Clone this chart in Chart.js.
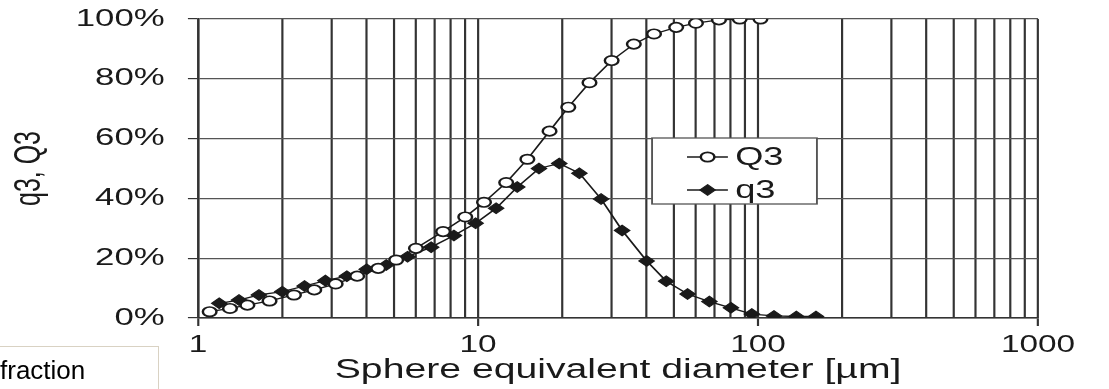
<!DOCTYPE html>
<html>
<head>
<meta charset="utf-8">
<script src="https://cdn.jsdelivr.net/npm/chart.js@4.4.1/dist/chart.umd.min.js"></script>
<style>
  html, body { margin: 0; padding: 0; background: #fff; }
  #wrap { position: relative; width: 1109px; height: 389px; overflow: hidden; }
  #fraction {
    position: absolute; left: -3px; top: 346px; width: 162px; height: 50px;
    border: 1px solid #d9d2c3; box-sizing: border-box;
    font: 26px "Liberation Sans", Arial, sans-serif; color: #000;
    padding: 8px 0 0 2px; line-height: 30px;
  }
</style>
</head>
<body>
<div id="wrap">
  <canvas id="myChart"></canvas>
  <div id="fraction">fraction</div>
</div>
<script>
// particle size [µm] and values [%]
const q3Sizes = [1.19, 1.4, 1.65, 2.0, 2.4, 2.85, 3.4, 4.0, 4.7, 5.6, 6.8, 8.2, 9.8, 11.6, 13.8, 16.5, 19.5, 23, 27.5, 32.7, 40, 47, 56, 67, 80, 95, 114, 137, 161];
const q3Values = [4.9, 6.0, 7.7, 8.8, 10.7, 12.5, 14.0, 16.3, 17.7, 20.5, 23.7, 27.6, 31.7, 36.7, 43.8, 50.0, 51.7, 48.4, 39.8, 29.3, 19.1, 12.3, 8.0, 5.5, 3.4, 1.3, 0.7, 0.5, 0.5];

const Q3Sizes = [1.1, 1.3, 1.5, 1.8, 2.2, 2.6, 3.1, 3.7, 4.4, 5.1, 6, 7.5, 9, 10.5, 12.6, 15, 18, 21, 25, 30, 36, 42.5, 51, 60, 72.5, 86, 102];
const Q3Values = [2.1, 3.2, 4.3, 5.7, 7.7, 9.4, 11.4, 14.0, 16.6, 19.4, 23.3, 28.9, 33.8, 38.7, 45.3, 53.1, 62.5, 70.5, 78.7, 86.1, 91.6, 95.0, 97.2, 98.6, 99.7, 100, 100];

const xLabels = [1, 10, 100, 1000];
const xGrid = [1, 2, 3, 4, 5, 6, 7, 8, 9, 10, 20, 30, 40, 50, 60, 70, 80, 90, 100, 200, 300, 400, 500, 600, 700, 800, 900, 1000];
const yTicks = [0, 20, 40, 60, 80, 100];

// the original figure is stretched sideways, so the whole drawing is scaled in x
const SX = 1.45;
const FONT = '"Liberation Sans", Arial, sans-serif';

const ctx = document.getElementById("myChart");

const toPoints = (xs, ys) => xs.map((x, i) => ({ x: x, y: ys[i] }));

const drawLegend = (chart) => {
  const c = chart.ctx;
  const box = { x: 449.7, y: 138, w: 113.7, h: 66 };
  c.save();
  c.fillStyle = "#fff";
  c.fillRect(box.x, box.y, box.w, box.h);
  c.strokeStyle = "#555";
  c.lineWidth = 1.3;
  c.strokeRect(box.x, box.y, box.w, box.h);
  chart.data.datasets.forEach((ds, i) => {
    const y = box.y + 19 + i * 33;
    c.strokeStyle = ds.borderColor;
    c.lineWidth = ds.borderWidth;
    c.beginPath();
    c.moveTo(473.8, y);
    c.lineTo(502, y);
    c.stroke();
    c.fillStyle = ds.pointBackgroundColor;
    c.strokeStyle = ds.pointBorderColor;
    c.lineWidth = ds.pointBorderWidth;
    c.beginPath();
    if (ds.pointStyle === "circle") {
      c.arc(488, y, ds.pointRadius, 0, Math.PI * 2);
    } else {
      c.moveTo(488, y - ds.pointRadius);
      c.lineTo(488 + ds.pointRadius, y);
      c.lineTo(488, y + ds.pointRadius);
      c.lineTo(488 - ds.pointRadius, y);
      c.closePath();
    }
    c.fill();
    c.stroke();
    c.fillStyle = "#1a1a1a";
    c.font = "25px " + FONT;
    c.textBaseline = "middle";
    c.fillText(ds.label, 507, y + 1);
  });
  c.restore();
};

const stretch = {
  id: "stretch",
  beforeDraw(chart) {
    chart.ctx.save();
    chart.ctx.scale(SX, 1);
  },
  afterDraw(chart) {
    drawLegend(chart);
    chart.ctx.restore();
  }
};

new Chart(ctx, {
  type: "line",
  data: {
    datasets: [
      {
        label: "Q3",
        data: toPoints(Q3Sizes, Q3Values),
        borderColor: "#1a1a1a",
        borderWidth: 1.3,
        pointStyle: "circle",
        pointRadius: 4.7,
        pointBorderWidth: 1.7,
        pointBackgroundColor: "#fff",
        pointBorderColor: "#1a1a1a",
        tension: 0
      },
      {
        label: "q3",
        data: toPoints(q3Sizes, q3Values),
        borderColor: "#1a1a1a",
        borderWidth: 1.3,
        pointStyle: "rectRot",
        pointRadius: 5.3,
        pointBorderWidth: 1,
        pointBackgroundColor: "#1a1a1a",
        pointBorderColor: "#1a1a1a",
        tension: 0
      }
    ]
  },
  options: {
    responsive: true,
    maintainAspectRatio: false,
    devicePixelRatio: 1,
    animation: false,
    layout: { padding: { left: 0, top: 19, right: 1109 - 715.9, bottom: 0 } },
    plugins: {
      legend: { display: false },
      tooltip: { enabled: false }
    },
    scales: {
      x: {
        type: "logarithmic",
        min: 1,
        max: 1000,
        afterBuildTicks: (scale) => {
          scale.ticks = xGrid.map((v) => ({ value: v }));
        },
        afterFit: (scale) => { scale.height = 71; },
        ticks: {
          autoSkip: false,
          maxRotation: 0,
          minRotation: 0,
          padding: 6,
          color: "#1a1a1a",
          font: { family: FONT, size: 23 },
          callback: (v) => (xLabels.includes(v) ? String(v) : "")
        },
        grid: {
          color: "#333",
          lineWidth: 1.5,
          tickLength: 8,
          tickColor: (c) => (c.tick && xLabels.includes(c.tick.value) ? "#333" : "rgba(0,0,0,0)")
        },
        border: { color: "#333", width: 1.5 },
        title: {
          display: true,
          text: "Sphere equivalent diameter [µm]",
          color: "#1a1a1a",
          font: { family: FONT, size: 27, lineHeight: 1.2 },
          padding: { top: 0, bottom: 2 }
        }
      },
      y: {
        min: 0,
        max: 100,
        afterBuildTicks: (scale) => {
          scale.ticks = yTicks.map((v) => ({ value: v }));
        },
        afterFit: (scale) => {
          scale.width = 136.6;
          scale.paddingTop = 0;
          scale.paddingBottom = 0;
        },
        ticks: {
          padding: 16,
          color: "#1a1a1a",
          font: { family: FONT, size: 24 },
          callback: (v) => v + "%"
        },
        grid: {
          color: "#555",
          lineWidth: 1.2,
          tickLength: 7,
          tickColor: "#333"
        },
        border: { color: "#333", width: 1.5 },
        title: {
          display: true,
          text: "q3, Q3",
          color: "#1a1a1a",
          font: { family: FONT, size: 25, lineHeight: 1.2 },
          padding: { top: 6, bottom: 0 }
        }
      }
    }
  },
  plugins: [stretch]
});
</script>
</body>
</html>
